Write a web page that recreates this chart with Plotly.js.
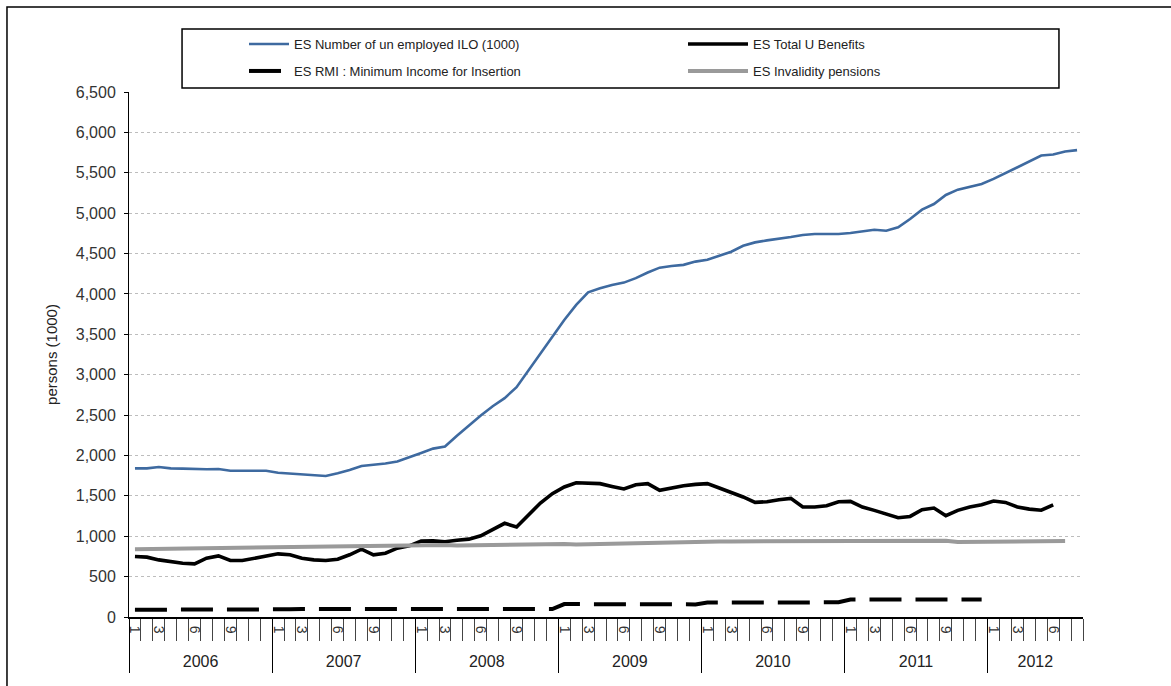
<!DOCTYPE html>
<html>
<head>
<meta charset="utf-8">
<script src="https://cdn.plot.ly/plotly-3.0.1.min.js"></script>
<style>
  body { margin: 0; background: #fff; }
  #chart { width: 1171px; height: 686px; }
</style>
</head>
<body>
<div id="chart"></div>
<script>
// months Jan 2006 .. Aug 2012
var years = ['2006', '2007', '2008', '2009', '2010', '2011', '2012'];
var monthsInYear = [12, 12, 12, 12, 12, 12, 8];
var labelledMonths = [1, 3, 6, 9];

var iloUnemployed = [
  1840, 1840, 1857, 1840, 1837, 1830, 1830, 1832, 1810, 1810, 1810, 1810,
  1786, 1775, 1760, 1750, 1745, 1780, 1820, 1870, 1885, 1900, 1925, 1975,
  2030, 2085, 2110, 2245, 2375, 2495, 2610, 2710, 2845, 3050, 3260, 3470,
  3677, 3864, 4020, 4070, 4110, 4140, 4195, 4265, 4325, 4345, 4360, 4400,
  4422, 4472, 4522, 4596, 4638, 4663, 4679, 4704, 4729, 4741, 4741, 4741,
  4754, 4770, 4795, 4782, 4824, 4927, 5043, 5113, 5225, 5291, 5329, 5362,
  5424, 5498, 5564, 5639, 5713, 5726, 5763, 5780
];
var totalUBenefits = [
  749, 741, 707, 683, 666, 658, 728, 757, 699, 699, 728, 757,
  782, 770, 728, 707, 699, 716, 770, 840, 770, 790, 852, 881,
  940, 942, 932, 950, 964, 1005, 1080, 1160, 1115, 1262, 1411, 1527,
  1610, 1662, 1659, 1651, 1617, 1585, 1638, 1651, 1568, 1597, 1626, 1642,
  1651, 1597, 1543, 1486, 1419, 1427, 1452, 1469, 1361, 1361, 1378, 1427,
  1431, 1361, 1320, 1270, 1229, 1245, 1328, 1349, 1254, 1320, 1361, 1390,
  1436, 1419, 1361, 1336, 1322, 1388
];
var rmiMinIncome = [
  90, 90, 90, 90, 90, 90, 90, 90, 90, 90, 90, 90,
  85, 95, 100, 100, 100, 100, 100, 100, 100, 100, 100, 100,
  100, 100, 100, 100, 100, 100, 100, 100, 100, 100, 100, 98,
  160, 158, 158, 158, 158, 158, 158, 158, 158, 158, 158, 156,
  178, 180, 180, 180, 180, 180, 180, 180, 180, 180, 180, 182,
  216, 218, 218, 218, 218, 218, 218, 218, 218, 218, 218, 218
];
var invalidityPensions = [
  840, 842, 845, 848, 850, 853, 856, 858, 860, 862, 864, 866,
  868, 870, 872, 874, 876, 878, 880, 882, 884, 886, 888, 890,
  893, 895, 890, 885, 888, 890, 892, 894, 896, 898, 900, 902,
  905, 898, 902, 905, 907, 909, 910, 912, 915, 920, 928, 932,
  935, 935, 935, 935, 935, 935, 935, 935, 935, 935, 935, 935,
  935, 935, 935, 935, 935, 935, 937, 940, 945, 928, 930, 938,
  940, 942, 942, 942, 942, 942, 942
];

// month index / label helpers
var monthNum = [], yearStart = [], yearMid = [];
var n = 0;
for (var y = 0; y < years.length; y++) {
  yearStart.push(n);
  yearMid.push(n + (monthsInYear[y] - 1) / 2);
  for (var m = 1; m <= monthsInYear[y]; m++) { monthNum.push(m); n++; }
}
function idx(len) { var a = []; for (var i = 0; i < len; i++) a.push(i); return a; }

var labelVals = [], labelText = [], boundaries = [];
for (var i = 0; i < monthNum.length; i++) {
  if (labelledMonths.indexOf(monthNum[i]) >= 0) { labelVals.push(i); labelText.push(String(monthNum[i])); }
}
for (var i = 0; i <= monthNum.length; i++) boundaries.push(i - 0.5);
var yearLines = yearStart.map(function (s) { return s - 0.5; });
var xr = [-0.5, monthNum.length - 0.5];

var traces = [
  { x: idx(iloUnemployed.length), y: iloUnemployed, name: 'ES Number of un employed ILO (1000)',
    mode: 'lines', line: { color: '#3e6aa0', width: 2.6 }, legend: 'legend' },
  { x: idx(totalUBenefits.length), y: totalUBenefits, name: 'ES Total U Benefits',
    mode: 'lines', line: { color: '#000', width: 3.6 }, legend: 'legend2' },
  { x: idx(rmiMinIncome.length), y: rmiMinIncome, name: 'ES RMI : Minimum Income for Insertion',
    mode: 'lines', line: { color: '#000', width: 4, dash: '32px,14px' }, legend: 'legend3' },
  { x: idx(invalidityPensions.length), y: invalidityPensions, name: 'ES Invalidity pensions',
    mode: 'lines', line: { color: '#9a9a9a', width: 4 }, legend: 'legend4' }
];

var legendFont = { family: 'Liberation Sans Narrow, Arial Narrow, Liberation Sans, sans-serif', size: 13, color: '#222' };
function leg(xp, yp, w) {
  return { orientation: 'h', x: (xp - 129) / 954, y: (617 - yp) / 525, xanchor: 'left', yanchor: 'middle',
    itemwidth: w, font: legendFont, bgcolor: 'rgba(0,0,0,0)', borderwidth: 0 };
}

var layout = {
  width: 1171, height: 686,
  margin: { l: 129, r: 88, t: 92, b: 69 },
  paper_bgcolor: '#fff', plot_bgcolor: '#fff',
  font: { family: 'Liberation Sans, Arial, sans-serif', color: '#222' },
  showlegend: true,
  legend: leg(244, 44, 40),
  legend2: leg(683, 44, 60),
  legend3: leg(244, 71, 40),
  legend4: leg(683, 71, 60),
  xaxis: {
    range: xr, showgrid: false, zeroline: false,
    showline: true, linecolor: '#000', linewidth: 2,
    tickmode: 'array', tickvals: labelVals, ticktext: labelText,
    ticks: '', tickangle: 90, ticklabelstandoff: 4,
    tickfont: { size: 14, color: '#333' },
    minor: { tickmode: 'array', tickvals: boundaries, ticks: 'outside', ticklen: 22,
      tickcolor: '#444', tickwidth: 1, showgrid: false }
  },
  xaxis2: {
    overlaying: 'x', anchor: 'y', side: 'bottom', range: xr,
    showgrid: false, zeroline: false, showline: false,
    tickmode: 'array', tickvals: yearMid, ticktext: years,
    ticks: '', ticklabelstandoff: 33,
    tickfont: { size: 16, color: '#222' },
    minor: { tickmode: 'array', tickvals: yearLines, ticks: 'outside', ticklen: 55,
      tickcolor: '#000', tickwidth: 1, showgrid: false }
  },
  yaxis: {
    range: [0, 6500], dtick: 500, tickformat: ',d',
    showline: true, linecolor: '#000', linewidth: 1,
    ticks: 'outside', ticklen: 4, tickcolor: '#000', ticklabelstandoff: 5,
    showgrid: true, gridcolor: '#bdbdbd', griddash: 'dot', gridwidth: 1,
    zeroline: false, tickfont: { size: 16, color: '#333' },
    title: { text: 'persons (1000)', font: { size: 15, color: '#222' }, standoff: 14 }
  },
  shapes: [
    // outer frame (top and left edges visible)
    { type: 'rect', xref: 'paper', yref: 'paper', x0: -0.1279, x1: 1.3, y0: -0.4, y1: 1.1619,
      line: { color: '#000', width: 1.5 }, layer: 'above' },
    // legend box
    { type: 'rect', xref: 'paper', yref: 'paper', x0: 0.0556, x1: 0.9748, y0: 1.0076, y1: 1.12,
      line: { color: '#000', width: 1.5 } }
  ]
};

Plotly.newPlot('chart', traces.concat([{ x: [0], y: [null], xaxis: 'x2', showlegend: false, hoverinfo: 'skip' }]),
  layout, { displayModeBar: false, staticPlot: true });
</script>
</body>
</html>
